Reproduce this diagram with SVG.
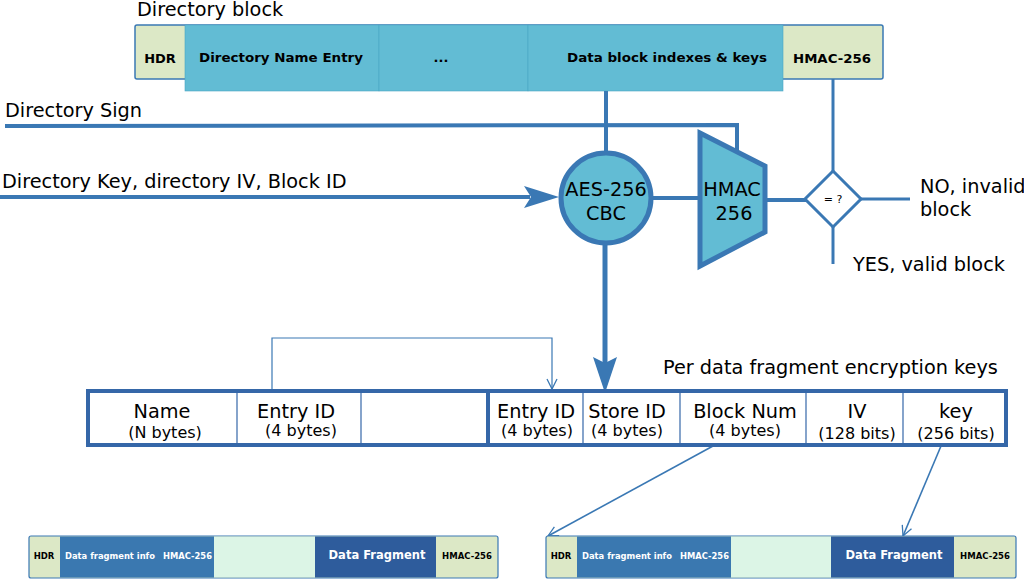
<svg xmlns="http://www.w3.org/2000/svg" width="1024" height="579" viewBox="0 0 1024 579">
<style>
text{font-family:"DejaVu Sans","Liberation Sans",sans-serif;fill:#000}
.lbl{font-size:19.3px}
.sub{font-size:16px}
.hb{font-size:13px;font-weight:bold}
.sb{font-size:8.5px;font-weight:bold}
.wb{fill:#fff}
.cyn{fill:#62bcd4}
.ln{stroke:#3a78b4;fill:none}
.ah{fill:#3a78b4}
.cell{stroke:#3567a8;stroke-width:1.2}
</style>
<defs>
<marker id="sm" markerWidth="12" markerHeight="12" refX="11" refY="6" orient="auto" markerUnits="userSpaceOnUse" viewBox="0 0 12 12"><path d="M1,1 L11,6 L1,11" fill="none" stroke="#3a78b4" stroke-width="1.3"/></marker>
</defs>

<text x="137" y="16" class="lbl">Directory block</text>

<g id="dirblock">
<rect x="135" y="25" width="748" height="54" rx="2" fill="#dce8c6" stroke="#3a78b4" stroke-width="1.5"/>
<rect x="185" y="25" width="194" height="66" class="cyn" stroke="#4aa5c4" stroke-width="0.6"/>
<rect x="379" y="25" width="149" height="66" class="cyn" stroke="#4aa5c4" stroke-width="0.6"/>
<rect x="528" y="25" width="255" height="66" class="cyn" stroke="#4aa5c4" stroke-width="0.6"/>
<text x="160" y="63" class="hb" text-anchor="middle">HDR</text>
<text x="281" y="62" class="hb" text-anchor="middle" textLength="164" lengthAdjust="spacingAndGlyphs">Directory Name Entry</text>
<text x="441" y="62" class="hb" text-anchor="middle">...</text>
<text x="667" y="62" class="hb" text-anchor="middle" textLength="200" lengthAdjust="spacingAndGlyphs">Data block indexes &amp; keys</text>
<text x="832" y="63" class="hb" text-anchor="middle" textLength="78" lengthAdjust="spacingAndGlyphs">HMAC-256</text>
</g>

<g id="connectors">
<path class="ln" stroke-width="4" d="M5,126 L737,125 L737,152"/>
<path class="ln" stroke-width="4" d="M606,91 L606,152"/>
<path class="ln" stroke-width="4" d="M0,197 L530,197"/>
<path class="ah" d="M524,186 L559,197 L524,208 L531,197 Z"/>
<path class="ln" stroke-width="4" d="M651,198 L702,198"/>
<path class="ln" stroke-width="4" d="M764,200 L806,200"/>
<path class="ln" stroke-width="3" d="M833,79 L833,171"/>
<path class="ln" stroke-width="3" d="M833,227 L833,264"/>
<path class="ln" stroke-width="3" d="M861,199 L910,199"/>
<path class="ln" stroke-width="5" d="M605,244 L605,364"/>
<path class="ah" d="M593,357 L605,393 L617,357 L605,363 Z"/>
<path class="ln" stroke-width="1.2" d="M272,391 L272,338 L552,338 L552,389" marker-end="url(#sm)"/>
<path class="ln" stroke-width="1.6" d="M713,446 L548,536" marker-end="url(#sm)"/>
<path class="ln" stroke-width="1.6" d="M941,446 L903,536" marker-end="url(#sm)"/>
</g>

<text x="5" y="117" class="lbl">Directory Sign</text>
<text x="2" y="188" class="lbl">Directory Key, directory IV, Block ID</text>

<g id="aes">
<circle cx="606" cy="198" r="45" class="cyn" stroke="#3a78b4" stroke-width="5"/>
<text x="606" y="196" class="lbl" text-anchor="middle">AES-256</text>
<text x="606" y="220" class="lbl" text-anchor="middle">CBC</text>
</g>

<g id="hmac">
<path d="M700,133 L765,166 L765,232 L700,266 Z" class="cyn" stroke="#3a78b4" stroke-width="5" stroke-linejoin="miter"/>
<text x="732" y="196" class="lbl" text-anchor="middle">HMAC</text>
<text x="734" y="220" class="lbl" text-anchor="middle">256</text>
</g>

<g id="cmp">
<path d="M833,171 L861,199 L833,227 L805,199 Z" fill="#fff" stroke="#3a78b4" stroke-width="3"/>
<text x="833" y="203" font-size="11" text-anchor="middle">= ?</text>
</g>

<text x="920" y="193" class="lbl">NO, invalid</text>
<text x="920" y="216" class="lbl">block</text>
<text x="853" y="271" class="lbl">YES, valid block</text>

<text x="663" y="374" class="lbl">Per data fragment encryption keys</text>

<g id="entry">
<rect x="88" y="391" width="918" height="54" fill="#fff" stroke="#3567a8" stroke-width="4"/>
<line x1="488" y1="391" x2="488" y2="445" stroke="#3567a8" stroke-width="4"/>
<line x1="237" y1="391" x2="237" y2="445" class="cell"/>
<line x1="361" y1="391" x2="361" y2="445" class="cell"/>
<line x1="583" y1="391" x2="583" y2="445" class="cell"/>
<line x1="680" y1="391" x2="680" y2="445" class="cell"/>
<line x1="806" y1="391" x2="806" y2="445" class="cell"/>
<line x1="903" y1="391" x2="903" y2="445" class="cell"/>
<text x="162" y="418" class="lbl" text-anchor="middle">Name</text>
<text x="165" y="438" class="sub" text-anchor="middle">(N bytes)</text>
<text x="296" y="418" class="lbl" text-anchor="middle">Entry ID</text>
<text x="301" y="436" class="sub" text-anchor="middle">(4 bytes)</text>
<text x="536" y="418" class="lbl" text-anchor="middle">Entry ID</text>
<text x="537" y="436" class="sub" text-anchor="middle">(4 bytes)</text>
<text x="627" y="418" class="lbl" text-anchor="middle">Store ID</text>
<text x="627" y="436" class="sub" text-anchor="middle">(4 bytes)</text>
<text x="745" y="418" class="lbl" text-anchor="middle">Block Num</text>
<text x="745" y="436" class="sub" text-anchor="middle">(4 bytes)</text>
<text x="857" y="418" class="lbl" text-anchor="middle">IV</text>
<text x="857" y="439" class="sub" text-anchor="middle">(128 bits)</text>
<text x="956" y="418" class="lbl" text-anchor="middle">key</text>
<text x="956" y="439" class="sub" text-anchor="middle">(256 bits)</text>
</g>

<g id="frag1">
<rect x="29" y="536" width="469" height="42" rx="2" fill="#dce8c6" stroke="#3a78b4" stroke-width="1.2"/>
<rect x="60" y="536.6" width="154" height="40.8" fill="#3a78b0"/>
<rect x="214" y="536.6" width="101" height="40.8" fill="#dcf5e6"/>
<rect x="315" y="536.6" width="121" height="40.8" fill="#2e5c9c"/>
<text x="44" y="559" class="sb" text-anchor="middle">HDR</text>
<text x="65" y="559" class="sb wb" textLength="90" lengthAdjust="spacingAndGlyphs">Data fragment info</text>
<text x="163" y="559" class="sb wb" textLength="49" lengthAdjust="spacingAndGlyphs">HMAC-256</text>
<text x="377" y="559" font-size="11.5" font-weight="bold" class="wb" text-anchor="middle">Data Fragment</text>
<text x="467" y="559" class="sb" text-anchor="middle">HMAC-256</text>
</g>

<g id="frag2">
<rect x="546" y="536" width="470" height="42" rx="2" fill="#dce8c6" stroke="#3a78b4" stroke-width="1.2"/>
<rect x="577" y="536.6" width="154" height="40.8" fill="#3a78b0"/>
<rect x="731" y="536.6" width="100" height="40.8" fill="#dcf5e6"/>
<rect x="831" y="536.6" width="123" height="40.8" fill="#2e5c9c"/>
<text x="561" y="559" class="sb" text-anchor="middle">HDR</text>
<text x="582" y="559" class="sb wb" textLength="90" lengthAdjust="spacingAndGlyphs">Data fragment info</text>
<text x="680" y="559" class="sb wb" textLength="49" lengthAdjust="spacingAndGlyphs">HMAC-256</text>
<text x="894" y="559" font-size="11.5" font-weight="bold" class="wb" text-anchor="middle">Data Fragment</text>
<text x="985" y="559" class="sb" text-anchor="middle">HMAC-256</text>
</g>
</svg>
